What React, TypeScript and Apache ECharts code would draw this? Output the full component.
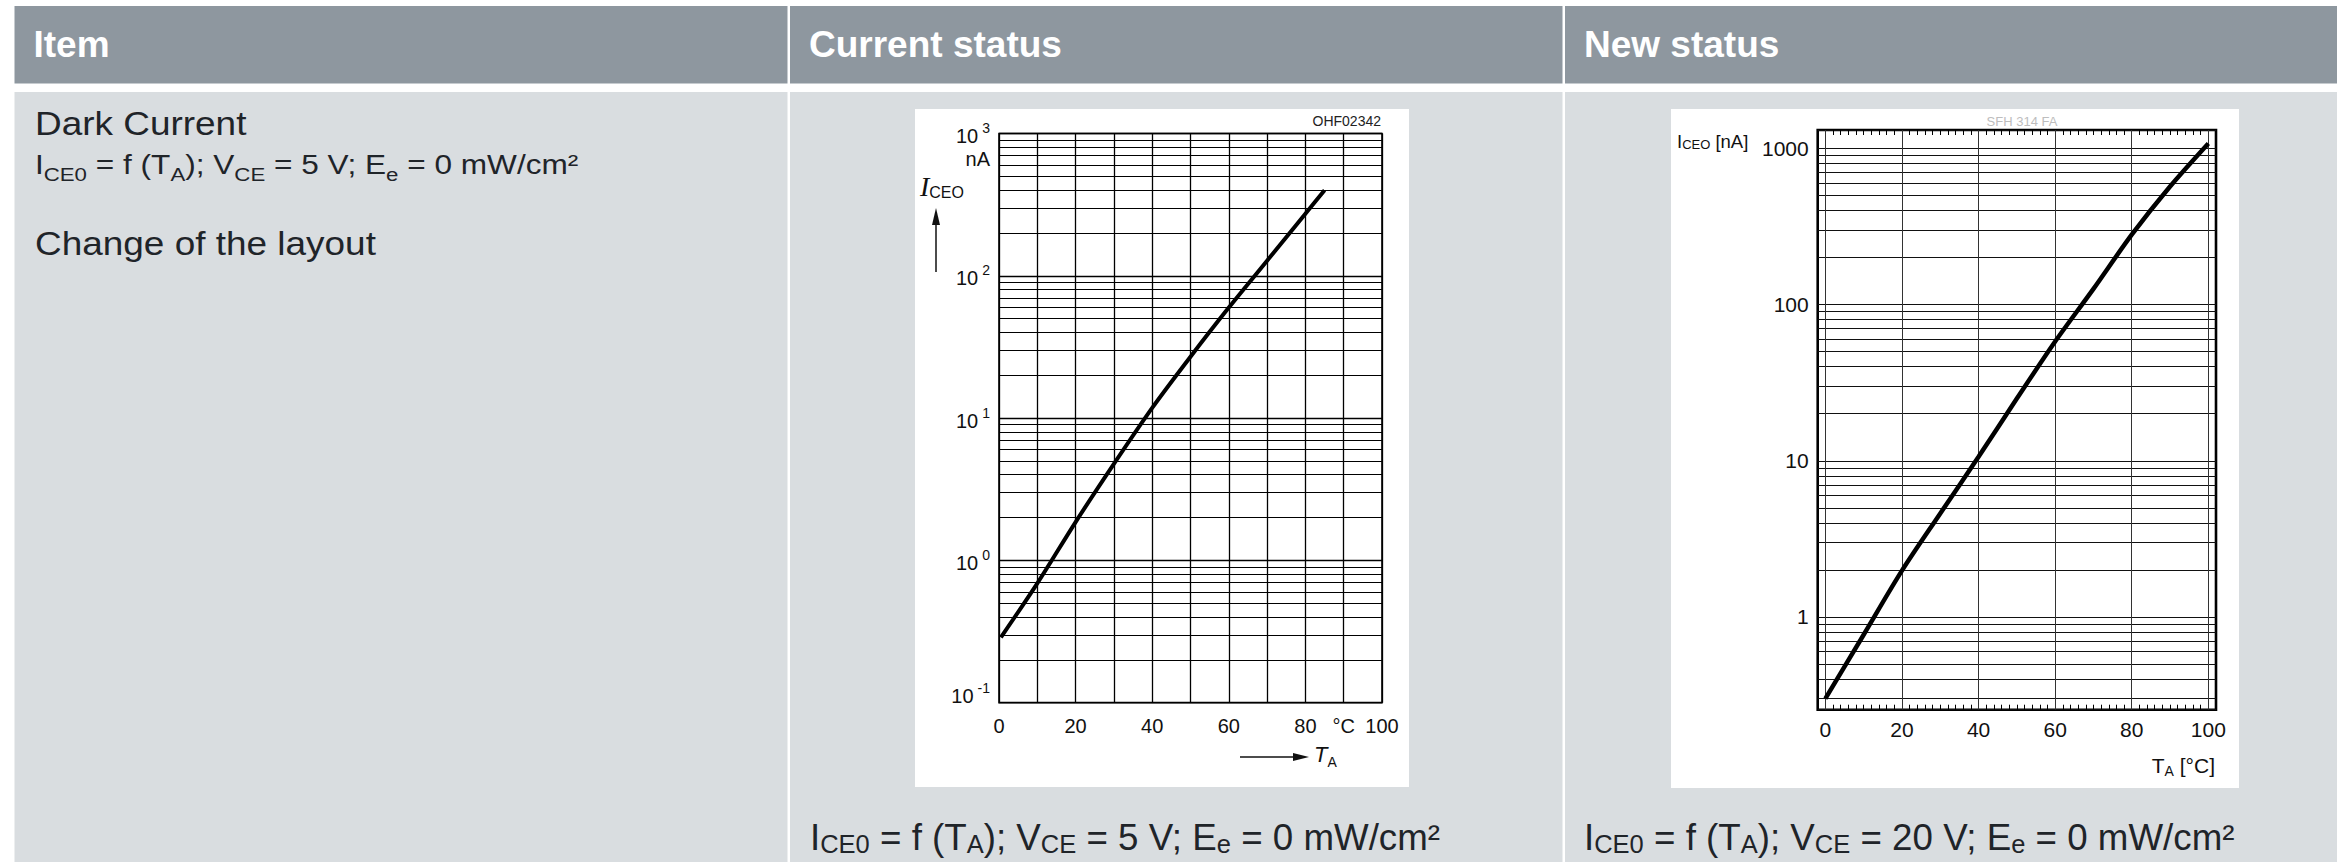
import React, { useEffect, useRef } from 'react';
import * as echarts from 'echarts';

// ---------- data ----------
const oldTemps = [0.5, 10, 20, 30, 40, 50, 60, 70, 80, 85];
const oldDarkCurrent = [0.288, 0.69, 1.86, 4.77, 11.8, 27, 59.8, 127.7, 273, 399];

const newTemps = [0, 10, 20, 30, 40, 50, 60, 70, 80, 90, 100];
const newDarkCurrent = [0.3, 0.77, 1.98, 4.6, 10.6, 25, 58, 126, 280, 570, 1075];

const oldXTickLabels = ['0', '', '20', '', '40', '', '60', '', '80', '°C', '100'];
const oldYExponents = ['-1', '0', '1', '2', '3'];
const oldMinorGrid = [
  0.2, 0.3, 0.4, 0.5, 0.6, 0.7, 0.8, 0.9,
  2, 3, 4, 5, 6, 7, 8, 9,
  20, 30, 40, 50, 60, 70, 80, 90,
  200, 300, 400, 500, 600, 700, 800, 900,
];

const newXTickValues = [0, 20, 40, 60, 80, 100];
const newXTickLabels = ['0', '20', '40', '60', '80', '100'];
const newYTickLabels = ['1', '10', '100', '1000'];
const newMinorGrid = [
  0.3, 0.4, 0.5, 0.6, 0.7, 0.8, 0.9,
  2, 3, 4, 5, 6, 7, 8, 9,
  20, 30, 40, 50, 60, 70, 80, 90,
  200, 300, 400, 500, 600, 700, 800, 900,
];

const headerTitles = ['Item', 'Current status', 'New status'];

// ---------- styling ----------
const SANS = '"Liberation Sans", Arial, Helvetica, sans-serif';
const SERIF = '"Liberation Serif", "Times New Roman", serif';
const HEADER_BG = '#8e979f';
const BODY_BG = '#d9dde0';
const TEXT = '#1f2429';

const colX = [14.5, 790, 1565];
const colW = [773, 772.5, 772];

function subText(parts: [string, boolean][]) {
  return parts.map(([t, s]) => `{${s ? 's' : 'm'}|${t}}`).join('');
}

// main tokens hang from the line top, subscripts sit on the line bottom
function subRich(mainSize: number, subSize: number, lineH: number, fill: string, mainExtra: any = {}, subExtra: any = {}) {
  return {
    m: { fontFamily: SANS, fontSize: mainSize, lineHeight: lineH, verticalAlign: 'top', fill, ...mainExtra },
    s: { fontFamily: SANS, fontSize: subSize, lineHeight: subSize, verticalAlign: 'bottom', fill, ...subExtra },
  };
}

export default function App() {
  const ref = useRef<HTMLDivElement>(null);

  useEffect(() => {
    if (!ref.current) return;
    const chart = echarts.init(ref.current, undefined, { renderer: 'svg' });

    const graphic: any[] = [];
    // table backgrounds
    colX.forEach((x, i) => {
      graphic.push({ type: 'rect', z: -10, shape: { x, y: 6, width: colW[i], height: 77.5 }, style: { fill: HEADER_BG } });
      graphic.push({ type: 'rect', z: -10, shape: { x, y: 92, width: colW[i], height: 770 }, style: { fill: BODY_BG } });
      graphic.push({
        type: 'text', z: 50, x: x + 19, y: 44,
        style: {
          text: headerTitles[i], fill: '#ffffff', fontFamily: SANS, fontWeight: 'bold', fontSize: 37,
          align: 'left', verticalAlign: 'middle',
        },
      });
    });
    // white picture boxes
    graphic.push({ type: 'rect', z: -5, shape: { x: 915, y: 109, width: 494, height: 678 }, style: { fill: '#ffffff' } });
    graphic.push({ type: 'rect', z: -5, shape: { x: 1671, y: 109, width: 568, height: 679 }, style: { fill: '#ffffff' } });

    // left column texts
    graphic.push({
      type: 'text', z: 50, x: 35, y: 123, scaleX: 1.12,
      style: { text: 'Dark Current', fill: TEXT, fontFamily: SANS, fontSize: 33, align: 'left', verticalAlign: 'middle' },
    });
    graphic.push({
      type: 'text', z: 50, x: 35, y: 150.5, scaleX: 1.17,
      style: {
        text: subText([['I', false], ['CE0', true], [' = f (T', false], ['A', true], ['); V', false], ['CE', true], [' = 5 V; E', false], ['e', true], [' = 0 mW/cm²', false]]),
        fill: TEXT, fontFamily: SANS, fontSize: 27, align: 'left', verticalAlign: 'top',
        rich: subRich(27, 19, 33, TEXT),
      },
    });
    graphic.push({
      type: 'text', z: 50, x: 35, y: 243, scaleX: 1.12,
      style: { text: 'Change of the layout', fill: TEXT, fontFamily: SANS, fontSize: 33, align: 'left', verticalAlign: 'middle' },
    });

    // captions under charts
    const capRich = subRich(36, 25, 37, TEXT);
    graphic.push({
      type: 'text', z: 50, x: 810, y: 820, scaleX: 1.02,
      style: {
        text: subText([['I', false], ['CE0', true], [' = f (T', false], ['A', true], ['); V', false], ['CE', true], [' = 5 V; E', false], ['e', true], [' = 0 mW/cm²', false]]),
        fill: TEXT, fontFamily: SANS, fontSize: 36, align: 'left', verticalAlign: 'top', rich: capRich,
      },
    });
    graphic.push({
      type: 'text', z: 50, x: 1584, y: 820, scaleX: 1.02,
      style: {
        text: subText([['I', false], ['CE0', true], [' = f (T', false], ['A', true], ['); V', false], ['CE', true], [' = 20 V; E', false], ['e', true], [' = 0 mW/cm²', false]]),
        fill: TEXT, fontFamily: SANS, fontSize: 36, align: 'left', verticalAlign: 'top', rich: capRich,
      },
    });

    // chart 1 annotations
    graphic.push({
      type: 'text', z: 50, x: 1381, y: 120.5,
      style: { text: 'OHF02342', fill: '#222', fontFamily: SANS, fontSize: 14, align: 'right', verticalAlign: 'middle' },
    });
    graphic.push({
      type: 'text', z: 50, x: 990, y: 159,
      style: { text: 'nA', fill: '#111', fontFamily: SANS, fontSize: 20, align: 'right', verticalAlign: 'middle' },
    });
    graphic.push({
      type: 'text', z: 50, x: 920, y: 172,
      style: {
        text: '{m|I}{s|CEO}', fill: '#111', fontFamily: SANS, fontSize: 20, align: 'left', verticalAlign: 'top',
        rich: subRich(28, 16, 28, '#111', { fontFamily: SERIF, fontStyle: 'italic' }),
      },
    });
    graphic.push({ type: 'line', z: 50, shape: { x1: 936, y1: 272, x2: 936, y2: 222 }, style: { stroke: '#111', lineWidth: 1.5 } });
    graphic.push({ type: 'polygon', z: 50, shape: { points: [[932, 225], [940, 225], [936, 208]] }, style: { fill: '#111' } });
    graphic.push({ type: 'line', z: 50, shape: { x1: 1240, y1: 757, x2: 1296, y2: 757 }, style: { stroke: '#111', lineWidth: 1.5 } });
    graphic.push({ type: 'polygon', z: 50, shape: { points: [[1293, 753], [1293, 761], [1309, 757]] }, style: { fill: '#111' } });
    graphic.push({
      type: 'text', z: 50, x: 1314, y: 743,
      style: {
        text: '{m|T}{s|A}', fill: '#111', fontFamily: SANS, fontSize: 20, align: 'left', verticalAlign: 'top',
        rich: subRich(22, 14, 26, '#111', { fontStyle: 'italic' }),
      },
    });

    // chart 2 annotations
    graphic.push({
      type: 'text', z: 50, x: 2022, y: 121,
      style: { text: 'SFH 314 FA', fill: '#bdbdbd', fontFamily: SANS, fontSize: 13, align: 'center', verticalAlign: 'middle' },
    });
    graphic.push({
      type: 'text', z: 50, x: 1677, y: 132,
      style: {
        text: '{m|I}{s|CEO}{m| [nA]}', fill: '#111', fontFamily: SANS, fontSize: 18, align: 'left', verticalAlign: 'top',
        rich: subRich(18.5, 13, 19, '#111'),
      },
    });
    graphic.push({
      type: 'text', z: 50, x: 2215, y: 754.5,
      style: {
        text: '{m|T}{s|A}{m| [°C]}', fill: '#111', fontFamily: SANS, fontSize: 21, align: 'right', verticalAlign: 'top',
        rich: subRich(21, 14, 23, '#111'),
      },
    });

    const option: any = {
      animation: false,
      textStyle: { fontFamily: SANS },
      graphic: { elements: graphic },
      grid: [
        { left: 999, top: 133.5, width: 383, height: 569.2, show: true, borderColor: '#000', borderWidth: 1.6, backgroundColor: 'transparent', containLabel: false },
        { left: 1817.7, top: 130, width: 398.3, height: 579.7, show: true, borderColor: '#000', borderWidth: 2.6, backgroundColor: 'transparent', containLabel: false },
      ],
      xAxis: [
        {
          type: 'value', gridIndex: 0, min: 0, max: 100, interval: 10,
          axisLine: { show: false }, axisTick: { show: false },
          splitLine: { show: true, lineStyle: { color: '#000', width: 1.3 } },
          axisLabel: {
            margin: 13, fontSize: 20, color: '#111', fontFamily: SANS,
            formatter: (v: number) => oldXTickLabels[Math.round(v / 10)] ?? '',
          },
        },
        {
          type: 'value', gridIndex: 1, min: -2, max: 102, interval: 2, position: 'bottom',
          axisLine: { show: false },
          axisTick: { show: true, inside: true, length: 5, lineStyle: { color: '#000', width: 1 } },
          splitLine: { show: false },
          axisLabel: {
            margin: 9, fontSize: 21, color: '#111', fontFamily: SANS,
            formatter: (v: number) => {
              const r = Math.round(v);
              if (Math.abs(v - r) > 1e-6) return '';
              const i = newXTickValues.indexOf(r);
              return i >= 0 ? newXTickLabels[i] : '';
            },
          },
        },
        {
          type: 'value', gridIndex: 1, min: -2, max: 102, interval: 2, position: 'top',
          axisLine: { show: false },
          axisTick: { show: true, inside: true, length: 5, lineStyle: { color: '#000', width: 1 } },
          splitLine: { show: false },
          axisLabel: { show: false },
        },
      ],
      yAxis: [
        {
          type: 'log', logBase: 10, gridIndex: 0, min: 0.1, max: 1000,
          axisLine: { show: false }, axisTick: { show: false },
          splitLine: { show: true, lineStyle: { color: '#000', width: 1.3 } },
          axisLabel: {
            margin: 9, color: '#111',
            formatter: (v: number) => {
              const e = Math.round(Math.log10(v));
              const lbl = oldYExponents[e + 1];
              if (lbl === undefined) return '';
              return e === -1 ? `{b|10}{s|${lbl}}\n{pl| }` : `{b|10}{s|${lbl}}`;
            },
            rich: {
              b: { fontFamily: SANS, fontSize: 20, lineHeight: 25, verticalAlign: 'bottom', color: '#111' },
              s: { fontFamily: SANS, fontSize: 14, lineHeight: 14, verticalAlign: 'top', color: '#111', padding: [0, 0, 0, 4] },
              pl: { fontFamily: SANS, fontSize: 2, lineHeight: 18, color: '#111' },
            },
          },
        },
        {
          type: 'log', logBase: 10, gridIndex: 1, min: 0.255, max: 1310,
          axisLine: { show: false }, axisTick: { show: false },
          splitLine: { show: true, lineStyle: { color: '#111', width: 1 } },
          axisLabel: {
            margin: 9, fontSize: 21, color: '#111', fontFamily: SANS,
            formatter: (v: number) => {
              const e = Math.log10(v);
              const r = Math.round(e);
              if (Math.abs(e - r) > 1e-3) return '';
              return newYTickLabels[r] ?? '';
            },
          },
        },
      ],
      series: [
        {
          name: 'Current status',
          type: 'line', xAxisIndex: 0, yAxisIndex: 0, z: 10,
          data: oldTemps.map((t, i) => [t, oldDarkCurrent[i]]),
          symbol: 'none', showSymbol: false, smooth: 0.3,
          lineStyle: { color: '#000', width: 4 },
          markLine: {
            silent: true, z: 1, symbol: ['none', 'none'], label: { show: false },
            emphasis: { disabled: true },
            lineStyle: { color: '#000', width: 1.2, type: 'solid' },
            data: oldMinorGrid.map((v) => ({ yAxis: v })),
          },
        },
        {
          name: 'New status',
          type: 'line', xAxisIndex: 1, yAxisIndex: 1, z: 10,
          data: newTemps.map((t, i) => [t, newDarkCurrent[i]]),
          symbol: 'none', showSymbol: false, smooth: 0.3,
          lineStyle: { color: '#000', width: 4.5 },
          markLine: {
            silent: true, z: 1, symbol: ['none', 'none'], label: { show: false },
            emphasis: { disabled: true },
            lineStyle: { color: '#111', width: 1, type: 'solid' },
            data: [
              ...newMinorGrid.map((v) => ({ yAxis: v })),
              ...newXTickValues.map((v) => ({ xAxis: v, lineStyle: { color: '#333', width: 1, type: 'solid' } })),
            ],
          },
        },
      ],
    };

    chart.setOption(option);
    return () => chart.dispose();
  }, []);

  return (
    <div
      ref={ref}
      style={{ position: 'absolute', left: 0, top: 0, width: 2349, height: 862, background: '#ffffff' }}
    />
  );
}
